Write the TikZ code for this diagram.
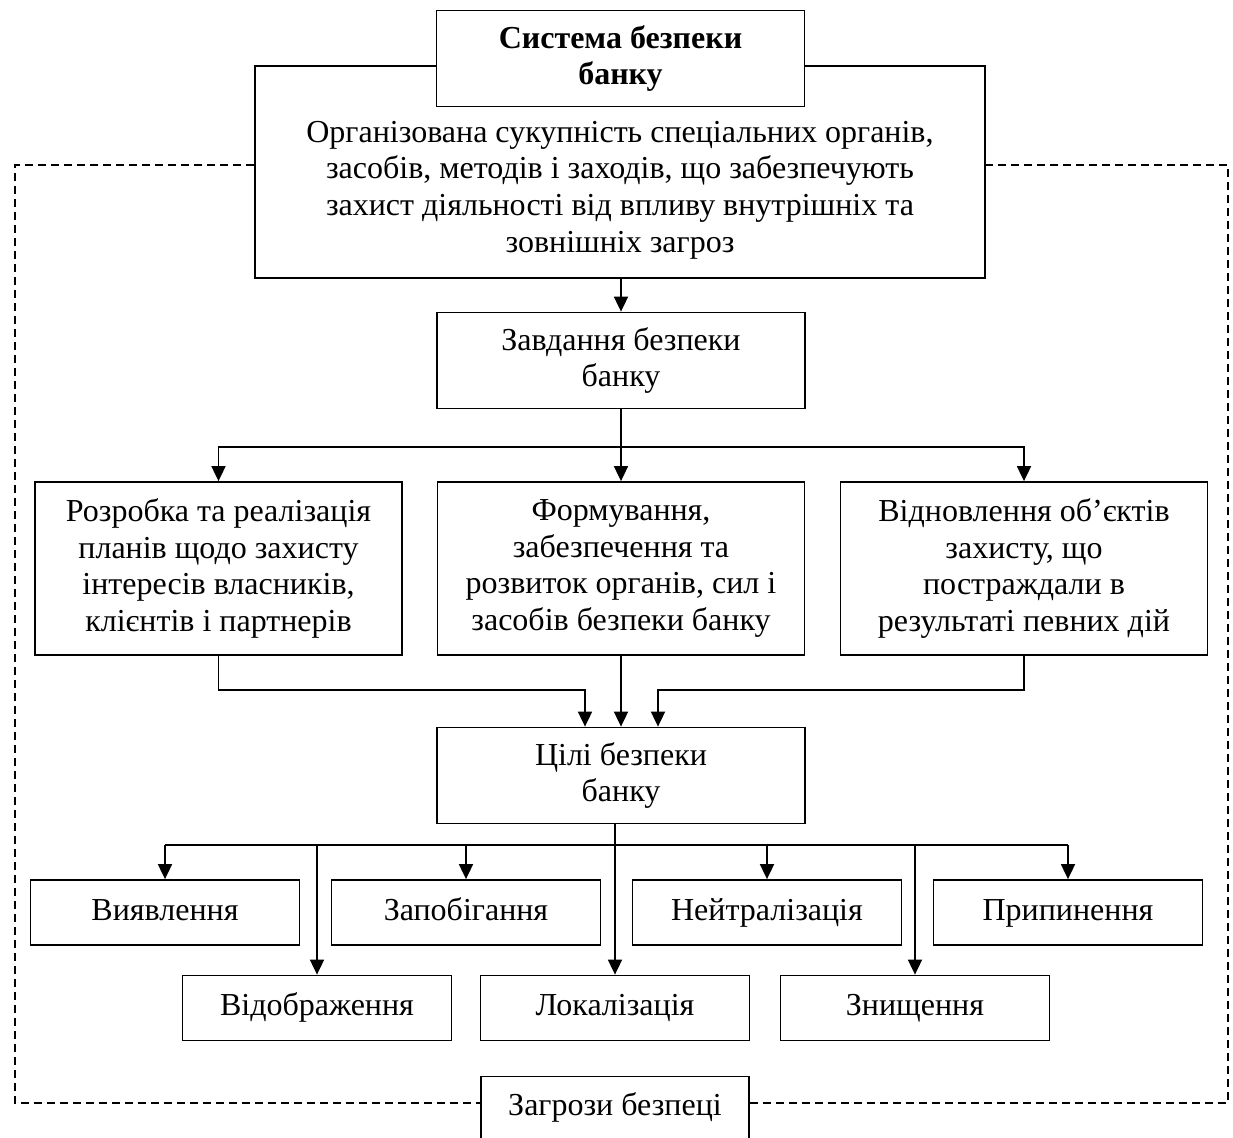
\documentclass[tikz,border=0pt]{standalone}
\usepackage{fontspec}
\setmainfont{Liberation Serif}
\usetikzlibrary{arrows.meta,positioning}
\newcommand{\boxfont}{\fontsize{16}{18.3}\selectfont}
\begin{document}
\begin{tikzpicture}[x=0.5pt, y=-0.5pt, line width=0.9pt, >={Triangle[length=7.5pt,width=7pt]},
	box/.style = {draw, fill=white, align=center, inner sep=0pt, font=\boxfont},
	main/.style = {box, minimum width=184pt, minimum height=48pt},
	task/.style = {box, minimum width=183.5pt, minimum height=86.5pt},
	goal/.style = {box, minimum width=134.5pt, minimum height=32.5pt, text height=11pt, text depth=3.5pt},
	frame/.style = {line width=0.7pt, dash pattern=on 4pt off 2.5pt}]
	\useasboundingbox (0,0) rectangle (1233,1137);
	% system of bank security
	\node[box, minimum width=365pt, minimum height=106pt] (def) at (620,172) {};
	\node[align=center, font=\boxfont] (deftext) at (620,190) {Організована сукупність спеціальних органів,\\засобів, методів і заходів, що забезпечують\\захист діяльності від впливу внутрішніх та\\зовнішніх загроз};
	\node[main, font=\boxfont\bfseries] (title) at (620.5,58.5) {Система безпеки\\банку};
	\node[main] (zavd) at (621,360.5) {Завдання безпеки\\банку};
	\node[task] (rozr) at (218.5,568.5) {Розробка та реалізація\\планів щодо захисту\\інтересів власників,\\клієнтів і партнерів};
	\node[task] (form) at (621,568.5) {Формування,\\забезпечення та\\розвиток органів, сил і\\засобів безпеки банку};
	\node[task] (vidn) at (1024,568.5) {Відновлення об’єктів\\захисту, що\\постраждали в\\результаті певних дій};
	\node[main] (cili) at (621,775.5) {Цілі безпеки\\банку};
	% goals
	\node[goal] (vyav) at (165,912.5) {Виявлення};
	\node[goal] (zapob) at (466,912.5) {Запобігання};
	\node[goal] (neutr) at (767,912.5) {Нейтралізація};
	\node[goal] (prypyn) at (1068,912.5) {Припинення};
	\node[goal] (vidobr) at (317,1008) {Відображення};
	\node[goal] (lokal) at (615,1008) {Локалізація};
	\node[goal] (znysh) at (915,1008) {Знищення};
	\node[goal, minimum width=134pt, minimum height=31.5pt] (zagroz) at (615,1108) {Загрози безпеці};
	% connectors
	\draw[->] (zavd.north |- def.south) -- (zavd.north);
	\coordinate (rozg) at (621,447);
	\draw (zavd.south) -- (rozg);
	\draw[->] (rozg) -| (rozr.north);
	\draw[->] (rozg) -- (form.north);
	\draw[->] (rozg) -| (vidn.north);
	\coordinate (c1) at (585,690);
	\coordinate (c2) at (658,690);
	\draw[->] (rozr.south) |- (c1) -- (c1 |- cili.north);
	\draw[->] (form.south) -- (cili.north);
	\draw[->] (vidn.south) |- (c2) -- (c2 |- cili.north);
	\coordinate (c3) at (615,845);
	\draw[->] (lokal.north |- cili.south) -- (lokal.north);
	\draw (vyav.north |- c3) -- (prypyn.north |- c3);
	\foreach \n in {vyav,zapob,neutr,prypyn,vidobr,znysh}
		\draw[->] (\n.north |- c3) -- (\n.north);
	% threats frame
	\coordinate (tl) at (15,165);
	\coordinate (tr) at (1228,165);
	\coordinate (bl) at (15,1103);
	\coordinate (br) at (1228,1103);
	\draw[frame] (def.west |- tl) -- (tl) -- (bl) -- (zagroz.west |- bl);
	\draw[frame] (zagroz.east |- br) -- (br) -- (tr) -- (def.east |- tr);
\end{tikzpicture}
\end{document}
